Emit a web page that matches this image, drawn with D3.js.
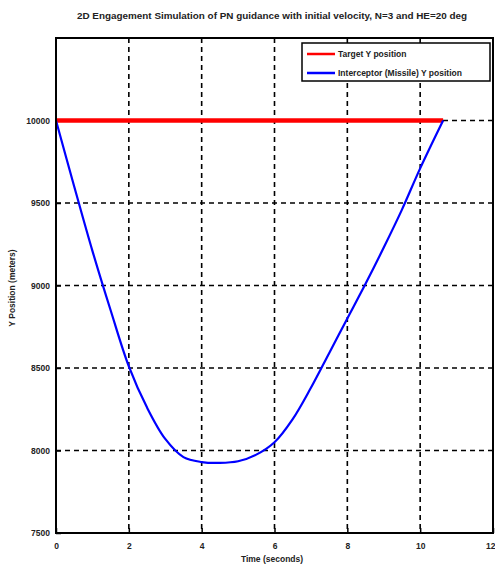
<!DOCTYPE html>
<html>
<head>
<meta charset="utf-8">
<script src="https://cdn.jsdelivr.net/npm/d3@7"></script>
<style>
  html, body { margin: 0; padding: 0; background: #fff; }
  svg { display: block; font-family: "Liberation Sans", Arial, sans-serif; }
</style>
</head>
<body>
<svg id="chart" width="495" height="567"></svg>
<script>
// Simulation output: time (s) and Y positions (m)
const timeSec = [0, 0.5, 1, 1.5, 2, 2.5, 3, 3.5, 4, 4.5, 5, 5.5, 6, 6.5, 7, 7.5, 8, 8.5, 9, 9.5, 10, 10.63];
const interceptorY = [10000, 9600, 9210, 8850, 8510, 8260, 8070, 7960, 7930, 7925, 7935, 7975, 8050, 8190, 8380, 8590, 8800, 9010, 9230, 9460, 9710, 10000];
const targetTime = [0, 10.63];
const targetY = [10000, 10000];
const xTicks = [0, 2, 4, 6, 8, 10, 12];
const yTicks = [7500, 8000, 8500, 9000, 9500, 10000];
const seriesNames = ["Target Y position", "Interceptor (Missile) Y position"];
const seriesColors = ["#ff0000", "#0000ff"];
const titleText = "2D Engagement Simulation of PN guidance with initial velocity, N=3 and HE=20 deg";

const svg = d3.select("#chart");
const margin = { left: 56, right: 2, top: 38, bottom: 34 };
const W = 495, H = 567;
const ink = "#222";

const x = d3.scaleLinear().domain([0, 12]).range([margin.left, W - margin.right]);
const y = d3.scaleLinear().domain([7500, 10500]).range([H - margin.bottom, margin.top]);

// dashed grid
const grid = svg.append("g").attr("stroke", "#000").attr("stroke-width", 1.6).attr("stroke-dasharray", "5,4");
grid.selectAll("line.gx").data(xTicks.slice(1, -1)).join("line")
  .attr("x1", d => x(d)).attr("x2", d => x(d))
  .attr("y1", y.range()[1]).attr("y2", y.range()[0]);
grid.selectAll("line.gy").data(yTicks.slice(1)).join("line")
  .attr("y1", d => y(d)).attr("y2", d => y(d))
  .attr("x1", x.range()[0]).attr("x2", x.range()[1]);

// axes with inward ticks
const xAxis = svg.append("g").attr("transform", `translate(0,${y.range()[0]})`)
  .call(d3.axisBottom(x).tickValues(xTicks).tickFormat(d3.format("d"))
    .tickSizeInner(-5).tickSizeOuter(0).tickPadding(10));
const yAxis = svg.append("g").attr("transform", `translate(${x.range()[0]},0)`)
  .call(d3.axisLeft(y).tickValues(yTicks).tickFormat(d3.format("d"))
    .tickSizeInner(-5).tickSizeOuter(0).tickPadding(6));
[xAxis, yAxis].forEach(a => {
  a.select(".domain").remove();
  a.selectAll(".tick line").attr("stroke", "#000").attr("stroke-width", 1.5);
  a.selectAll(".tick text").attr("font-size", 8.5).attr("font-weight", "bold").attr("fill", ink);
});
// keep the last x label inside the page
xAxis.selectAll(".tick text").filter(d => d === 12).attr("text-anchor", "end").attr("dx", 2);

// data lines
svg.append("path")
  .datum(targetTime.map((t, i) => [t, targetY[i]]))
  .attr("fill", "none").attr("stroke", seriesColors[0]).attr("stroke-width", 4.5)
  .attr("d", d3.line().x(d => x(d[0])).y(d => y(d[1])));
svg.append("path")
  .datum(timeSec.map((t, i) => [t, interceptorY[i]]))
  .attr("fill", "none").attr("stroke", seriesColors[1]).attr("stroke-width", 2.2)
  .attr("d", d3.line().curve(d3.curveCatmullRom).x(d => x(d[0])).y(d => y(d[1])));

// frame
svg.append("rect")
  .attr("x", x.range()[0]).attr("y", y.range()[1])
  .attr("width", x.range()[1] - x.range()[0]).attr("height", y.range()[0] - y.range()[1])
  .attr("fill", "none").attr("stroke", "#000").attr("stroke-width", 2);

// title and axis labels
svg.append("text").attr("x", 272).attr("y", 19).attr("text-anchor", "middle")
  .attr("font-size", 9).attr("font-weight", "bold").attr("fill", ink)
  .attr("textLength", 390).attr("lengthAdjust", "spacingAndGlyphs").text(titleText);
svg.append("text").attr("x", 272).attr("y", 562).attr("text-anchor", "middle")
  .attr("font-size", 8.5).attr("font-weight", "bold").attr("fill", ink).text("Time (seconds)");
svg.append("text").attr("transform", "translate(15,288) rotate(-90)").attr("text-anchor", "middle")
  .attr("font-size", 8.5).attr("font-weight", "bold").attr("fill", ink).text("Y Position (meters)");

// legend
const lg = svg.append("g").attr("transform", "translate(302,43)");
lg.append("rect").attr("width", 188).attr("height", 38).attr("fill", "#fff")
  .attr("stroke", "#000").attr("stroke-width", 1.5);
seriesNames.forEach((name, i) => {
  const yy = 11 + i * 19;
  lg.append("line").attr("x1", 5).attr("x2", 33).attr("y1", yy).attr("y2", yy)
    .attr("stroke", seriesColors[i]).attr("stroke-width", 2.5);
  lg.append("text").attr("x", 36).attr("y", yy + 3).attr("font-size", 8.5)
    .attr("font-weight", "bold").attr("fill", ink).text(name);
});
</script>
</body>
</html>
